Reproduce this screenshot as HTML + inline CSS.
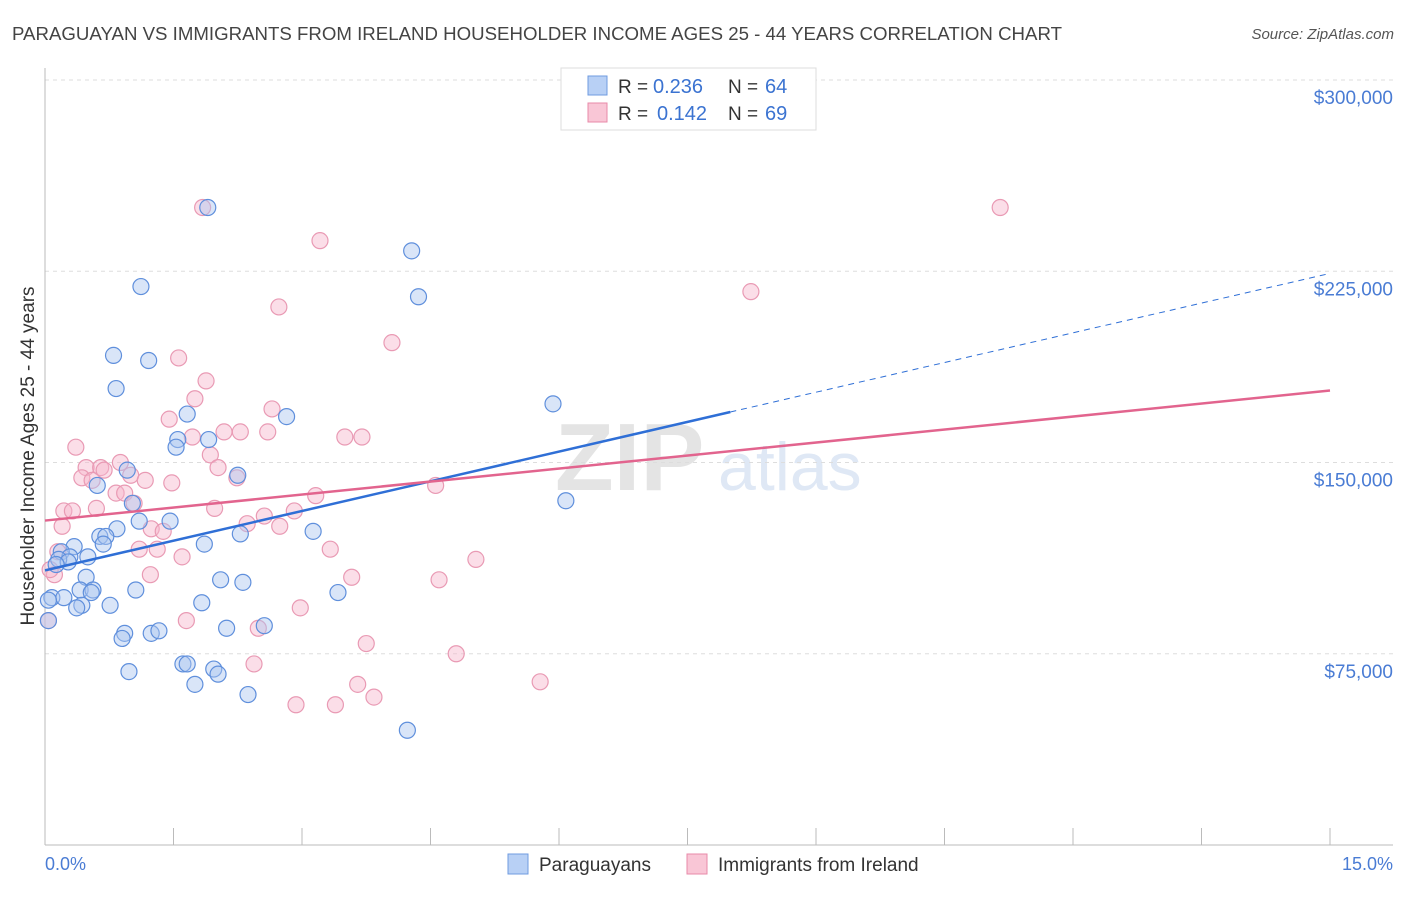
<!DOCTYPE html>
<html><head><meta charset="utf-8"><style>
body{margin:0;background:#fff;font-family:"Liberation Sans",sans-serif}
svg text{font-family:"Liberation Sans",sans-serif}
</style></head><body>
<svg id="chart" width="1406" height="892" xmlns="http://www.w3.org/2000/svg">
<text x="12" y="40" font-size="18" fill="#444" textLength="1050" lengthAdjust="spacingAndGlyphs">PARAGUAYAN VS IMMIGRANTS FROM IRELAND HOUSEHOLDER INCOME AGES 25 - 44 YEARS CORRELATION CHART</text>
<text x="1394" y="39" font-size="15" fill="#555" font-style="italic" text-anchor="end">Source: ZipAtlas.com</text>
<text x="555" y="490" font-size="96" fill="#e4e4e4" font-family="Liberation Serif" font-weight="bold">ZIP</text>
<text x="718" y="490" font-size="68" fill="#dfe8f5">atlas</text>
<g id="grid"></g>
<g id="axes"></g>
<g id="pts"></g>
<g id="trend"></g>
<text transform="translate(34,456) rotate(-90)" font-size="19" fill="#333" text-anchor="middle">Householder Income Ages 25 - 44 years</text>
<text x="45" y="870" font-size="18" fill="#4a7cd4">0.0%</text>
<text x="1393" y="870" font-size="18" fill="#4a7cd4" text-anchor="end">15.0%</text>
<g>
<rect x="561" y="68" width="255" height="62" fill="#fff" stroke="#ddd"/>
<rect x="588" y="76" width="19" height="19" fill="#b8d0f5" stroke="#6f9be0"/>
<rect x="588" y="103" width="19" height="19" fill="#f9c6d6" stroke="#e88aa8"/>
<text x="618" y="93" font-size="19" fill="#333">R =</text>
<text x="653" y="93" font-size="20" fill="#3b73d1">0.236</text>
<text x="728" y="93" font-size="19" fill="#333">N =</text>
<text x="765" y="93" font-size="20" fill="#3b73d1">64</text>
<text x="618" y="120" font-size="19" fill="#333">R =</text>
<text x="657" y="120" font-size="20" fill="#3b73d1">0.142</text>
<text x="728" y="120" font-size="19" fill="#333">N =</text>
<text x="765" y="120" font-size="20" fill="#3b73d1">69</text>
</g>
<g>
<rect x="508" y="854" width="20" height="20" fill="#b8d0f5" stroke="#6f9be0"/>
<text x="539" y="871" font-size="19" fill="#333">Paraguayans</text>
<rect x="687" y="854" width="20" height="20" fill="#f9c6d6" stroke="#e88aa8"/>
<text x="718" y="871" font-size="19" fill="#333">Immigrants from Ireland</text>
</g>
</svg>
<script>
const yTicks=[75000,150000,225000,300000];
const yTickLabels=["$75,000","$150,000","$225,000","$300,000"];
const blueX=[1.90,1.12,4.28,4.36,0.80,1.21,0.83,5.93,1.66,2.82,1.55,1.91,1.53,0.96,2.25,0.61,6.08,1.02,1.10,1.46,0.84,0.64,0.71,2.28,3.13,0.34,0.68,1.86,0.19,0.50,0.29,0.16,0.27,0.13,0.48,2.05,2.31,0.41,0.56,1.06,0.54,0.08,0.22,0.04,0.43,0.76,0.37,1.83,3.42,2.56,2.12,0.93,1.24,1.33,0.90,1.61,1.66,0.98,1.97,2.02,1.75,2.37,4.23,0.04];
const blueY=[250,219,233,215,192,190,179,173,169,168,159,159,156,147,145,141,135,134,127,127,124,121,121,122,123,117,118,118,115,113,113,112,111,110,105,104,103,100,100,100,99,97,97,96,94,94,93,95,99,86,85,83,83,84,81,71,71,68,69,67,63,59,45,88];
const pinkX=[1.84,11.15,3.21,8.24,2.73,4.05,1.56,1.88,1.75,2.65,1.45,1.72,2.28,2.09,2.60,3.50,3.70,0.36,1.93,0.88,0.48,0.65,2.02,0.69,1.00,0.43,2.24,0.55,1.17,1.48,4.56,3.16,0.83,0.93,1.04,1.98,0.60,0.22,0.32,2.91,2.56,2.36,2.74,0.20,1.24,1.38,3.33,1.10,1.31,1.60,0.15,5.03,1.23,3.58,4.60,0.11,2.98,1.65,2.49,3.75,4.80,2.44,3.65,3.84,5.78,2.93,3.39,0.04,0.06];
const pinkY=[250,250,237,217,211,197,191,182,175,171,167,160,162,162,162,160,160,156,153,150,148,148,148,147,145,144,144,143,143,142,141,137,138,138,134,132,132,131,131,131,129,126,125,125,124,123,116,116,116,113,115,112,106,105,104,106,93,88,85,79,75,71,63,58,64,55,55,88,108];
const ns="http://www.w3.org/2000/svg";
const X=p=>45+p*(1330-45)/15, Y=v=>845-v*765/300000;
function mk(t,a,p){const e=document.createElementNS(ns,t);for(const k in a)e.setAttribute(k,a[k]);p.appendChild(e);return e;}
const grid=document.getElementById('grid'),axes=document.getElementById('axes');
yTicks.forEach((v,i)=>{const l=mk('line',{x1:45,x2:1393,y1:Y(v),y2:Y(v),stroke:'#ddd','stroke-dasharray':'4,4'},grid);


const t=mk('text',{x:1393,y:Y(v)+24,'font-size':19,fill:'#4a7cd4','text-anchor':'end'},grid);t.textContent=yTickLabels[i];

});
const ax=mk('line',{x1:45,x2:1393,y1:845,y2:845,stroke:'#bbb'},axes);


const ay=mk('line',{x1:45,x2:45,y1:68,y2:845,stroke:'#bbb'},axes);


for(let i=0;i<=10;i++){const t=mk('line',{x1:X(i*1.5),x2:X(i*1.5),y1:828,y2:845,stroke:'#bbb'},axes);

}
const pts=document.getElementById('pts');
pinkX.forEach((x,i)=>{const c=mk('circle',{cx:X(x),cy:Y(pinkY[i]*1000),r:8,fill:'rgba(246,182,203,0.45)',stroke:'#e99ab4','stroke-width':1.2},pts);

});
blueX.forEach((x,i)=>{const c=mk('circle',{cx:X(x),cy:Y(blueY[i]*1000),r:8,fill:'rgba(170,198,240,0.45)',stroke:'#5f8fdc','stroke-width':1.2},pts);

});
function fit(xs,ys){const n=xs.length,mx=xs.reduce((a,b)=>a+b)/n,my=ys.reduce((a,b)=>a+b)/n;let sxy=0,sxx=0;xs.forEach((x,i)=>{sxy+=(x-mx)*(ys[i]-my);sxx+=(x-mx)**2});const b=sxy/sxx;return[my-b*mx,b];}
const tr=document.getElementById('trend');
const [ba,bb]=fit(blueX,blueY),[pa,pb]=fit(pinkX,pinkY);
const l1=mk('line',{x1:X(0),y1:Y(ba*1000),x2:X(8),y2:Y((ba+bb*8)*1000),stroke:'#2f6fd6','stroke-width':2.5},tr);


const l2=mk('line',{x1:X(8),y1:Y((ba+bb*8)*1000),x2:X(15),y2:Y((ba+bb*15)*1000),stroke:'#2f6fd6','stroke-width':1,'stroke-dasharray':'6,5'},tr);


const l3=mk('line',{x1:X(0),y1:Y(pa*1000),x2:X(15),y2:Y((pa+pb*15)*1000),stroke:'#e2648e','stroke-width':2.5},tr);


</script>
</body></html>
